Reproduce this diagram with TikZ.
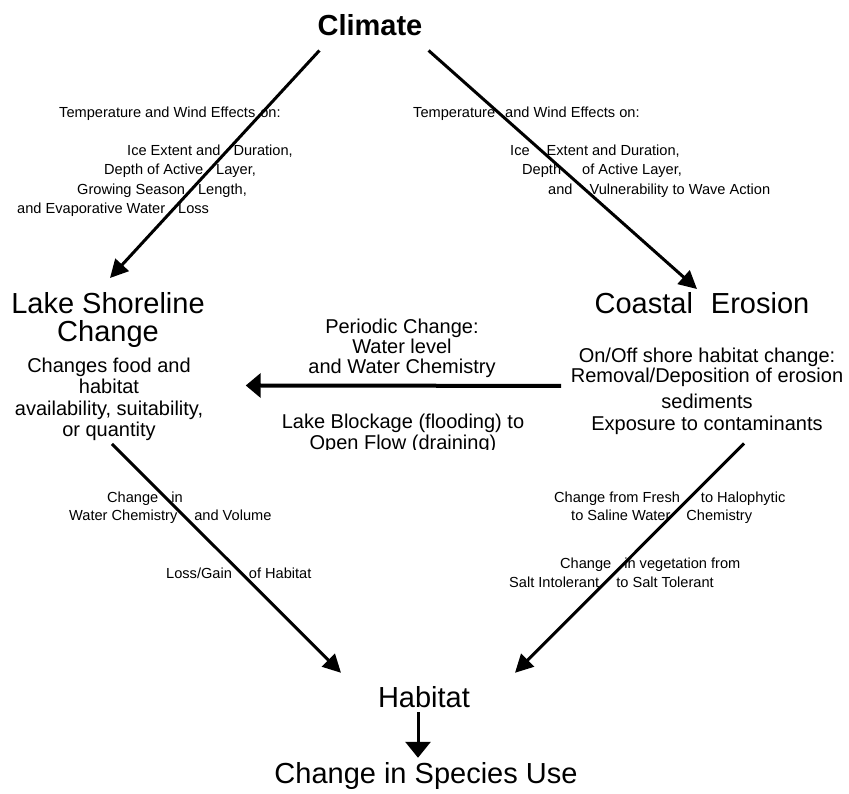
\documentclass[tikz,border=0pt]{standalone}
\usepackage{fontspec}
\setmainfont{Liberation Sans}
\usetikzlibrary{arrows.meta}
\newcommand{\lgap}[1]{\hspace{#1pt}}
\tikzset{
  >={Triangle[length=18pt,width=18pt]},
  big/.style={inner sep=0pt,font=\fontsize{29}{28}\selectfont,align=center},
  mid/.style={inner sep=0pt,font=\fontsize{20}{20}\selectfont,align=center},
  lab/.style={inner sep=0pt,anchor=base west,font=\fontsize{14.6}{18}\selectfont},
  ar/.style={->,line width=3pt},
  every picture/.style={x=1pt,y=1pt},
}
\begin{document}
\begin{tikzpicture}
\useasboundingbox (0,0) rectangle (849,-793);
\node[big,font=\bfseries\fontsize{29}{28}\selectfont,anchor=base] (clim) at (370,-35) {Climate};
\node[big,anchor=north] (lake) at (108,-292) {Lake Shoreline\\Change};
\node[big,anchor=north] (coast) at (702,-292) {Coastal\lgap{18}Erosion};
\node[mid,font=\fontsize{20}{21.5}\selectfont,anchor=north] (lakeinfo) at (109,-357.4) {Changes food and\\habitat\\availability, suitability,\\or quantity};
\node[mid,anchor=north] (coastinfo) at (707,-347.4) {On/Off shore habitat change:\\Removal/Deposition of erosion\\[6pt]sediments\\[2pt]Exposure to contaminants};
\node[mid,anchor=north] (periodic) at (402,-318.4) {Periodic Change:\\Water level\\and Water Chemistry};
\begin{scope}
\clip (250,-400) rectangle (560,-449);
\node[mid,font=\fontsize{20}{21}\selectfont,anchor=north] (block) at (403,-413.4) {Lake Blockage (flooding) to\\Open Flow (draining)};
\end{scope}
\node[big,anchor=base] (hab) at (424,-707) {Habitat};
\node[big,anchor=base] (use) at (426,-783) {Change in Species Use};
% wind effects, left
\node[lab] (wl1) at (59,-117) {Temperature and Wind Effects\lgap{5}on:};
\node[lab] (wl2) at (127,-155) {Ice Extent and\lgap{13}Duration,};
\node[lab] (wl3) at (104,-174) {Depth of Active\lgap{13}Layer,};
\node[lab] (wl4) at (77,-194) {Growing Season\lgap{13}Length,};
\node[lab] (wl5) at (17,-213) {and Evaporative Water\lgap{13}Loss};
% wind effects, right
\node[lab] (wr1) at (413,-117) {Temperature\lgap{10}and Wind Effects on:};
\node[lab] (wr2) at (510,-155) {Ice\lgap{17}Extent and Duration,};
\node[lab] (wr3) at (522,-174) {Depth\lgap{21}of Active Layer,};
\node[lab] (wr4) at (548,-194) {and\lgap{17}Vulnerability to Wave Action};
% lower labels
\node[lab] (hl1) at (107,-502) {Change\lgap{13}in};
\node[lab] (hl2) at (69,-520) {Water Chemistry\lgap{17}and Volume};
\node[lab] (hl3) at (166,-578) {Loss/Gain\lgap{17}of Habitat};
\node[lab] (hr1) at (554,-502) {Change from Fresh\lgap{21}to Halophytic};
\node[lab] (hr2) at (571,-520) {to Saline Water\lgap{16}Chemistry};
\node[lab] (hr3) at (560,-568) {Change\lgap{13}in vegetation from};
\node[lab] (hr4) at (509,-587) {Salt Intolerant\lgap{17}to Salt Tolerant};
\draw[ar] ([shift={(2,-15)}]clim.south west) -- ([shift={(2,14)}]lake.north);
\draw[ar] ([shift={(6,-15)}]clim.south east) -- ([shift={(-5,3)}]coast.north);
\draw[ar,-{Triangle[length=15pt,width=24pt]},line width=4pt] ([shift={(-9.5,5)}]coastinfo.west) -- ([shift={(42.4,13.7)}]lakeinfo.east);
\draw[ar] ([shift={(3,-3)}]lakeinfo.south) -- ([shift={(-83,13)}]hab.north);
\draw[ar] ([shift={(37,-9)}]coastinfo.south) -- ([shift={(91,13)}]hab.north);
\draw[ar,-{Triangle[length=16pt,width=25pt]}] ([shift={(-6,-5)}]hab.south) -- ([shift={(-8,4)}]use.north);
\end{tikzpicture}
\end{document}
